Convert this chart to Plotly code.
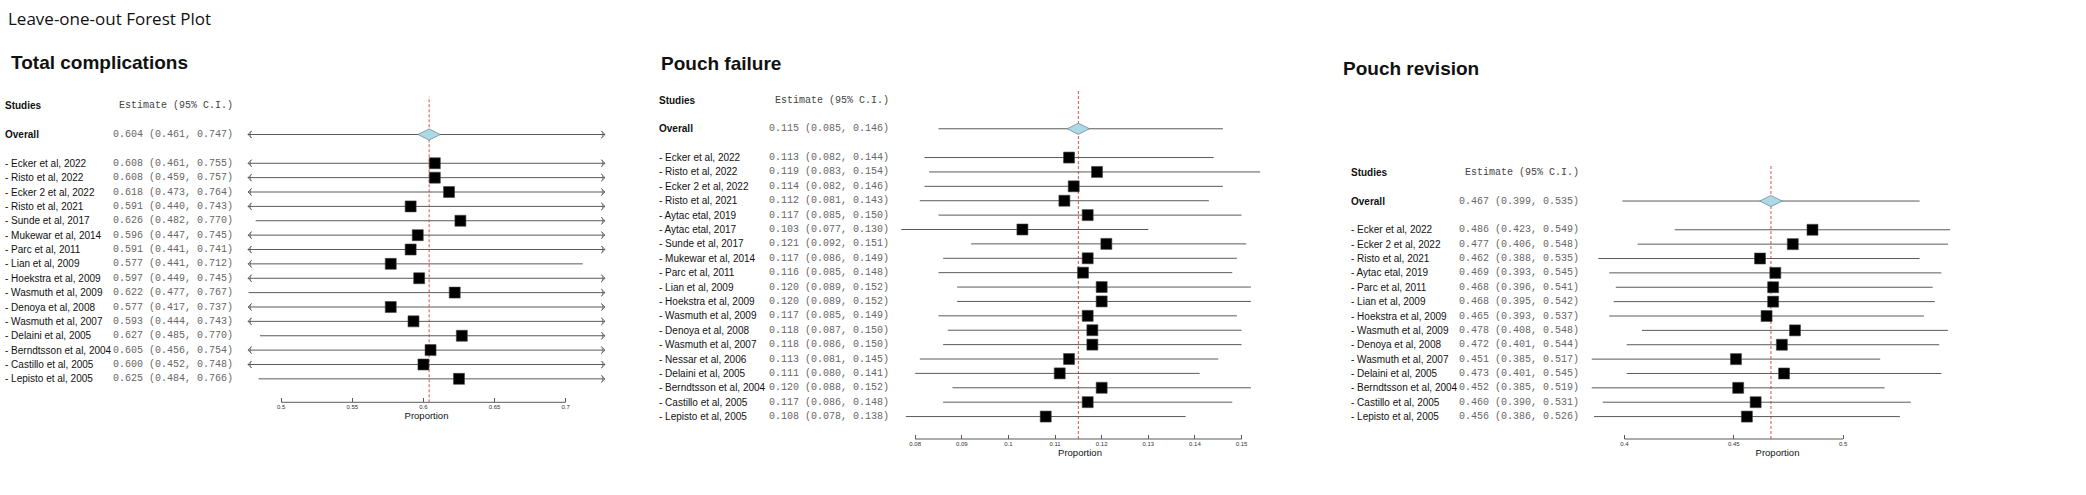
import plotly.graph_objects as go

W, H = 2086, 495

# ---------------- data ----------------
tc_studies = ["Ecker et al, 2022", "Risto et al, 2022", "Ecker 2 et al, 2022", "Risto et al, 2021",
              "Sunde et al, 2017", "Mukewar et al, 2014", "Parc et al, 2011", "Lian et al, 2009",
              "Hoekstra et al, 2009", "Wasmuth et al, 2009", "Denoya et al, 2008", "Wasmuth et al, 2007",
              "Delaini et al, 2005", "Berndtsson et al, 2004", "Castillo et al, 2005", "Lepisto et al, 2005"]
tc_est = [0.608, 0.608, 0.618, 0.591, 0.626, 0.596, 0.591, 0.577, 0.597, 0.622, 0.577, 0.593, 0.627, 0.605, 0.600, 0.625]
tc_lo = [0.461, 0.459, 0.473, 0.440, 0.482, 0.447, 0.441, 0.441, 0.449, 0.477, 0.417, 0.444, 0.485, 0.456, 0.452, 0.484]
tc_hi = [0.755, 0.757, 0.764, 0.743, 0.770, 0.745, 0.741, 0.712, 0.745, 0.767, 0.737, 0.743, 0.770, 0.754, 0.748, 0.766]
tc_overall = [0.604, 0.461, 0.747]
tc_ticks = [0.5, 0.55, 0.6, 0.65, 0.7]
tc_ticklabels = ["0.5", "0.55", "0.6", "0.65", "0.7"]

pf_studies = ["Ecker et al, 2022", "Risto et al, 2022", "Ecker 2 et al, 2022", "Risto et al, 2021",
              "Aytac etal, 2019", "Aytac etal, 2017", "Sunde et al, 2017", "Mukewar et al, 2014",
              "Parc et al, 2011", "Lian et al, 2009", "Hoekstra et al, 2009", "Wasmuth et al, 2009",
              "Denoya et al, 2008", "Wasmuth et al, 2007", "Nessar et al, 2006", "Delaini et al, 2005",
              "Berndtsson et al, 2004", "Castillo et al, 2005", "Lepisto et al, 2005"]
pf_est = [0.113, 0.119, 0.114, 0.112, 0.117, 0.103, 0.121, 0.117, 0.116, 0.120, 0.120, 0.117, 0.118, 0.118, 0.113, 0.111, 0.120, 0.117, 0.108]
pf_lo = [0.082, 0.083, 0.082, 0.081, 0.085, 0.077, 0.092, 0.086, 0.085, 0.089, 0.089, 0.085, 0.087, 0.086, 0.081, 0.080, 0.088, 0.086, 0.078]
pf_hi = [0.144, 0.154, 0.146, 0.143, 0.150, 0.130, 0.151, 0.149, 0.148, 0.152, 0.152, 0.149, 0.150, 0.150, 0.145, 0.141, 0.152, 0.148, 0.138]
pf_overall = [0.115, 0.085, 0.146]
pf_ticks = [0.08, 0.09, 0.10, 0.11, 0.12, 0.13, 0.14, 0.15]
pf_ticklabels = ["0.08", "0.09", "0.1", "0.11", "0.12", "0.13", "0.14", "0.15"]

pr_studies = ["Ecker et al, 2022", "Ecker 2 et al, 2022", "Risto et al, 2021", "Aytac etal, 2019",
              "Parc et al, 2011", "Lian et al, 2009", "Hoekstra et al, 2009", "Wasmuth et al, 2009",
              "Denoya et al, 2008", "Wasmuth et al, 2007", "Delaini et al, 2005", "Berndtsson et al, 2004",
              "Castillo et al, 2005", "Lepisto et al, 2005"]
pr_est = [0.486, 0.477, 0.462, 0.469, 0.468, 0.468, 0.465, 0.478, 0.472, 0.451, 0.473, 0.452, 0.460, 0.456]
pr_lo = [0.423, 0.406, 0.388, 0.393, 0.396, 0.395, 0.393, 0.408, 0.401, 0.385, 0.401, 0.385, 0.390, 0.386]
pr_hi = [0.549, 0.548, 0.535, 0.545, 0.541, 0.542, 0.537, 0.548, 0.544, 0.517, 0.545, 0.519, 0.531, 0.526]
pr_overall = [0.467, 0.399, 0.535]
pr_ticks = [0.4, 0.45, 0.5]
pr_ticklabels = ["0.4", "0.45", "0.5"]

main_title = "Leave-one-out Forest Plot"
panel_titles = ["Total complications", "Pouch failure", "Pouch revision"]

# ---------------- layout config (pixel positions in the window) ----------------
panels = [
    dict(title=panel_titles[0], studies=tc_studies, est=tc_est, lo=tc_lo, hi=tc_hi, overall=tc_overall,
         ticks=tc_ticks, ticklabels=tc_ticklabels,
         title_xy=(9, 62), label_x=3, est_right=235,
         xdom=(248, 605), xrange=(0.4766, 0.7277), ydom=(96.7, 402.3), yrange=(20.63, -0.63)),
    dict(title=panel_titles[1], studies=pf_studies, est=pf_est, lo=pf_lo, hi=pf_hi, overall=pf_overall,
         ticks=pf_ticks, ticklabels=pf_ticklabels,
         title_xy=(659, 63.5), label_x=657, est_right=891,
         xdom=(890, 1270), xrange=(0.0746, 0.1561), ydom=(90, 439), yrange=(23.56, -0.695)),
    dict(title=panel_titles[2], studies=pr_studies, est=pr_est, lo=pr_lo, hi=pr_hi, overall=pr_overall,
         ticks=pr_ticks, ticklabels=pr_ticklabels,
         title_xy=(1341, 68), label_x=1348.5, est_right=1581,
         xdom=(1590, 1965), xrange=(0.3842, 0.5558), ydom=(164, 439), yrange=(18.56, -0.578)),
]

SANS = "Liberation Sans, Arial, sans-serif"
MONO = "Liberation Mono, Courier New, monospace"
LINE_C = "#5a5a5a"
RED_C = "#d9534f"

def px_x(v):
    return v / W

def px_y(v):
    return 1 - v / H

fig = go.Figure()
annotations = []
shapes = []

for k, p in enumerate(panels):
    sfx = "" if k == 0 else str(k + 1)
    xa, ya = "x" + sfx, "y" + sfx
    r0, r1 = p["xrange"]
    n = len(p["studies"])
    rows = [4 + i for i in range(n)]
    o_est, o_lo, o_hi = p["overall"]

    # CI lines (overall + studies)
    lx, ly = [o_lo, o_hi, None], [2, 2, None]
    for r, lo, hi in zip(rows, p["lo"], p["hi"]):
        lx += [lo, hi, None]
        ly += [r, r, None]
    fig.add_trace(go.Scatter(x=lx, y=ly, mode="lines", line=dict(color=LINE_C, width=1),
                             xaxis=xa, yaxis=ya, hoverinfo="skip", showlegend=False))

    # arrows where CI exceeds plotting range
    ax_, ay_, aang = [], [], []
    for r, lo, hi in [(2, o_lo, o_hi)] + list(zip(rows, p["lo"], p["hi"])):
        if lo < r0:
            ax_.append(r0); ay_.append(r); aang.append(-90)
        if hi > r1:
            ax_.append(r1); ay_.append(r); aang.append(90)
    if ax_:
        fig.add_trace(go.Scatter(x=ax_, y=ay_, mode="markers", cliponaxis=False,
                                 marker=dict(symbol="arrow-wide-open", size=5, angle=aang,
                                             color=LINE_C, line=dict(color=LINE_C, width=0.8)),
                                 xaxis=xa, yaxis=ya, hoverinfo="skip", showlegend=False))

    # study squares
    fig.add_trace(go.Scatter(x=p["est"], y=rows, mode="markers",
                             marker=dict(symbol="square", size=11, color="black",
                                         line=dict(color="#444", width=0.6)),
                             xaxis=xa, yaxis=ya, hoverinfo="skip", showlegend=False))
    # overall diamond
    fig.add_trace(go.Scatter(x=[o_est], y=[2], mode="markers",
                             marker=dict(symbol="diamond-wide", size=16, color="#add8e6",
                                         line=dict(color="#6f8f99", width=0.8)),
                             xaxis=xa, yaxis=ya, hoverinfo="skip", showlegend=False))

    # red dashed line at overall estimate
    shapes.append(dict(type="line", xref=xa, yref=ya + " domain", x0=o_est, x1=o_est, y0=0, y1=1,
                       line=dict(color=RED_C, width=1, dash="3px,2px"), layer="below"))
    # axis line spanning tick range
    shapes.append(dict(type="line", xref=xa, yref=ya + " domain", x0=p["ticks"][0], x1=p["ticks"][-1],
                       y0=0, y1=0, line=dict(color=LINE_C, width=1)))

    # axes
    fig.update_layout(**{
        "xaxis" + sfx: dict(domain=[px_x(p["xdom"][0]), px_x(p["xdom"][1])], range=list(p["xrange"]),
                            anchor=ya, showgrid=False, zeroline=False, showline=False,
                            tickvals=p["ticks"], ticktext=p["ticklabels"], ticks="inside", ticklen=4,
                            tickcolor=LINE_C, tickwidth=1,
                            tickfont=dict(family=SANS, size=6, color="#333"),
                            title=dict(text="Proportion", font=dict(family=SANS, size=9.5, color="#111"),
                                       standoff=3)),
        "yaxis" + sfx: dict(domain=[px_y(p["ydom"][1]), px_y(p["ydom"][0])], range=list(p["yrange"]),
                            anchor=xa, visible=False),
    })

    # texts
    tx, ty = p["title_xy"]
    annotations.append(dict(text=p["title"], x=px_x(tx), y=px_y(ty), xref="paper", yref="paper",
                            xanchor="left", yanchor="middle", showarrow=False,
                            font=dict(family=SANS, size=19, color="#111", weight="bold")))
    annotations.append(dict(text="Studies", x=px_x(p["label_x"]), y=0, xref="paper", yref=ya,
                            xanchor="left", yanchor="middle", showarrow=False,
                            font=dict(family=SANS, size=10, color="#111", weight="bold")))
    annotations.append(dict(text="Estimate (95% C.I.)", x=px_x(p["est_right"]), y=0, xref="paper", yref=ya,
                            xanchor="right", yanchor="middle", showarrow=False,
                            font=dict(family=MONO, size=10, color="#444")))
    annotations.append(dict(text="Overall", x=px_x(p["label_x"]), y=2, xref="paper", yref=ya,
                            xanchor="left", yanchor="middle", showarrow=False,
                            font=dict(family=SANS, size=10, color="#111", weight="bold")))
    annotations.append(dict(text=f"{o_est:.3f} ({o_lo:.3f}, {o_hi:.3f})", x=px_x(p["est_right"]), y=2,
                            xref="paper", yref=ya, xanchor="right", yanchor="middle", showarrow=False,
                            font=dict(family=MONO, size=10, color="#666")))
    for r, s, e, lo, hi in zip(rows, p["studies"], p["est"], p["lo"], p["hi"]):
        annotations.append(dict(text="- " + s, x=px_x(p["label_x"]), y=r, xref="paper", yref=ya,
                                xanchor="left", yanchor="middle", showarrow=False,
                                font=dict(family=SANS, size=10, color="#111")))
        annotations.append(dict(text=f"{e:.3f} ({lo:.3f}, {hi:.3f})", x=px_x(p["est_right"]), y=r,
                                xref="paper", yref=ya, xanchor="right", yanchor="middle", showarrow=False,
                                font=dict(family=MONO, size=10, color="#666")))

annotations.append(dict(text=main_title, x=px_x(6), y=px_y(18.5), xref="paper", yref="paper",
                        xanchor="left", yanchor="middle", showarrow=False,
                        font=dict(family="Open Sans, Noto Sans, sans-serif", size=17, color="#111")))

fig.update_layout(width=W, height=H, margin=dict(l=0, r=0, t=0, b=0),
                  paper_bgcolor="white", plot_bgcolor="white",
                  annotations=annotations, shapes=shapes, showlegend=False)

# remove the default page margin so the figure fills the window exactly
fig.write_html("out.html", config={"displayModeBar": False},
               post_script="document.body.style.margin='0';document.body.style.overflow='hidden';")
